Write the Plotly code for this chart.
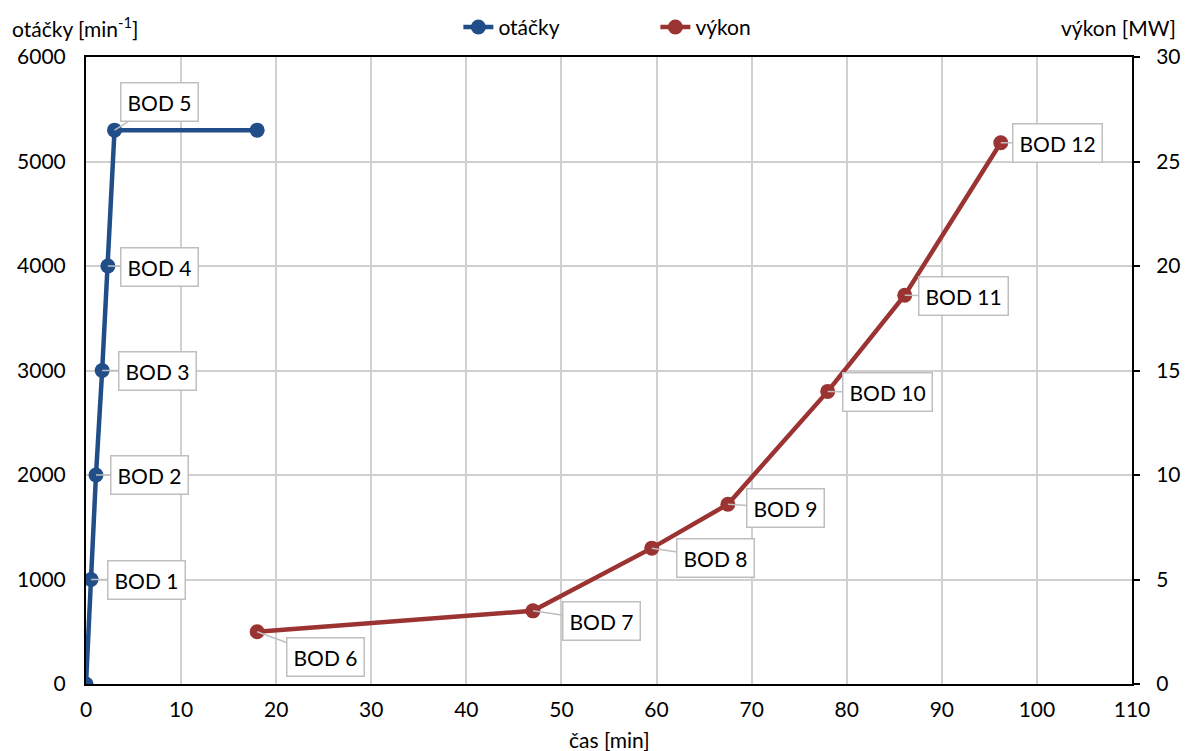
import plotly.graph_objects as go

# Data
cas_ot = [0, 0.53, 1.05, 1.7, 2.3, 3.0, 18]
otacky = [0, 1000, 2000, 3000, 4000, 5300, 5300]
labels_ot = ["", "BOD 1", "BOD 2", "BOD 3", "BOD 4", "BOD 5", ""]

cas_vy = [18, 47, 59.5, 67.5, 78, 86.1, 96.2]
vykon = [2.5, 3.5, 6.5, 8.6, 14.0, 18.6, 25.9]
labels_vy = ["BOD 6", "BOD 7", "BOD 8", "BOD 9", "BOD 10", "BOD 11", "BOD 12"]

BLUE = "#214E88"
RED = "#9B3333"
FONT = "Lato, Liberation Sans, sans-serif"
FS = 21

fig = go.Figure()
fig.add_trace(go.Scatter(x=cas_ot, y=otacky, mode="lines+markers", name="otáčky",
                         line=dict(color=BLUE, width=4.5), marker=dict(size=15, color=BLUE)))
fig.add_trace(go.Scatter(x=cas_vy, y=vykon, mode="lines+markers", name="výkon", yaxis="y2",
                         line=dict(color=RED, width=4.5), marker=dict(size=15, color=RED)))

# callout offsets (pixel) per label
off_ot = {"BOD 1": (55, 0), "BOD 2": (54, 0), "BOD 3": (55, 0), "BOD 4": (52, 1), "BOD 5": (45, -28)}
off_vy = {"BOD 6": (68, 25), "BOD 7": (69, 10), "BOD 8": (64, 10), "BOD 9": (58, 4),
          "BOD 10": (60, 1), "BOD 11": (59, 1), "BOD 12": (57, 0)}

def callout(x, y, yref, t, ax, ay):
    return dict(x=x, y=y, xref="x", yref=yref, text=t, showarrow=True, ax=ax, ay=ay,
                arrowhead=0, arrowwidth=1.5, arrowcolor="#BFBFBF", bgcolor="white",
                bordercolor="#BFBFBF", borderwidth=1.5, borderpad=6,
                font=dict(size=FS, color="black", family=FONT))

ann = []
for x, y, t in zip(cas_ot, otacky, labels_ot):
    if t:
        ax, ay = off_ot[t]
        ann.append(callout(x, y, "y", t, ax, ay))
for x, y, t in zip(cas_vy, vykon, labels_vy):
    ax, ay = off_vy[t]
    ann.append(callout(x, y, "y2", t, ax, ay))

ann.append(dict(text="otáčky [min<sup>-1</sup>]", xref="paper", yref="paper", x=-0.0727, y=1.0,
                yshift=30, xanchor="left", yanchor="middle", showarrow=False,
                font=dict(size=FS, color="black", family=FONT)))
ann.append(dict(text="výkon [MW]", xref="paper", yref="paper", x=1.044, y=1.0,
                yshift=30, xanchor="right", yanchor="middle", showarrow=False,
                font=dict(size=FS, color="black", family=FONT)))
ann.append(dict(text="čas [min]", xref="paper", yref="paper", x=0.5, y=0,
                yshift=-55, xanchor="center", yanchor="middle", showarrow=False,
                font=dict(size=FS, color="black", family=FONT)))

fig.update_layout(
    width=1187, height=743,
    margin=dict(l=78, r=63, t=49, b=67, autoexpand=False),
    paper_bgcolor="white", plot_bgcolor="white",
    font=dict(family=FONT, size=FS, color="black"),
    showlegend=True,
    legend=dict(orientation="h", x=0.356, xanchor="left", yref="container", y=0.974,
                yanchor="middle", bgcolor="rgba(0,0,0,0)",
                font=dict(size=FS, family=FONT), entrywidth=152),
    xaxis=dict(range=[0, 110], dtick=10, showgrid=True, gridcolor="#D0D0D0", gridwidth=2,
               showline=True, linecolor="black", linewidth=2, mirror=True, zeroline=False,
               ticks="", ticklabelstandoff=6, tickfont=dict(size=FS),
               automargin=False),
    yaxis=dict(range=[0, 6000], dtick=1000, showgrid=True, gridcolor="#D0D0D0", gridwidth=2,
               showline=True, linecolor="black", linewidth=2, zeroline=False,
               ticks="", ticklabelstandoff=14,
               tickfont=dict(size=FS), automargin=False),
    yaxis2=dict(range=[0, 30], dtick=5, overlaying="y", side="right", showgrid=False,
                showline=True, linecolor="black", linewidth=2, zeroline=False,
                ticks="outside", ticklen=6, tickwidth=2, tickcolor="black",
                ticklabelstandoff=12,
                tickfont=dict(size=FS), automargin=False),
    annotations=ann,
)

fig.write_html("out.html")
